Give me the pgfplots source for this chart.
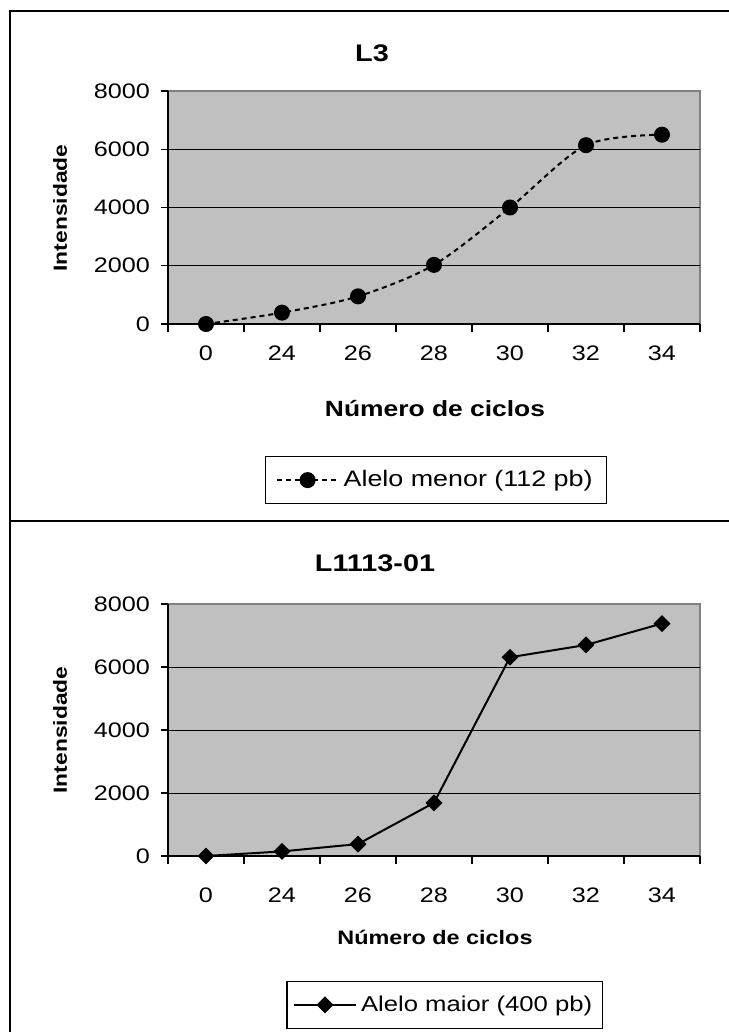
\documentclass[border=0pt]{standalone}
\usepackage{pgfplots}
\pgfplotsset{compat=1.18}
\usepackage{fontspec}
\setmainfont{Liberation Sans}[FakeStretch=1.2]
\definecolor{plotgray}{RGB}{192,192,192}
\definecolor{bordergray}{RGB}{128,128,128}
\pgfplotsset{excel/.style={
  scale only axis, width=266pt,
  xmin=-0.5, xmax=6.5, ymin=0, ymax=8000,
  axis lines=left, axis line style={-, black, line width=0.6pt},
  axis background/.style={fill=plotgray, draw=bordergray, line width=1pt},
  xtick={0,...,6}, xticklabels={0,24,26,28,30,32,34},
  minor xtick={-0.5,0.5,...,6.5},
  ytick={0,2000,...,8000},
  extra y ticks={2000,4000,6000}, extra y tick labels={},
  extra y tick style={grid=major, major grid style={black, line width=0.5pt}},
  tick align=outside, major tick length=3.5pt, minor tick length=4pt,
  every major x tick/.append style={draw=none},
  every minor x tick/.append style={draw=black, line width=0.6pt},
  every major y tick/.append style={black, line width=0.6pt},
  /pgf/number format/assume math mode=true,
  /pgf/number format/set thousands separator={},
  tick label style={font=\fontsize{10.5}{12}\selectfont},
  yticklabel style={xshift=-2pt},
  legend cell align=left,
  legend image code/.code={\draw[mark repeat=2,mark phase=2,#1] plot coordinates {(0pt,0pt) (15.5pt,0pt) (31pt,0pt)};},
  legend style={draw=black, fill=white, line width=0.6pt, inner ysep=5pt},
}}
\begin{document}
\begin{tikzpicture}
\useasboundingbox (0,0) rectangle (364pt,-516pt);
\fill[white] (0,0) rectangle (364pt,-516pt);
\draw[line width=0.6pt] (366pt,-5.5pt) -- (5pt,-5.5pt) -- (5pt,-518pt);
\draw[line width=0.6pt] (5pt,-260.5pt) -- (366pt,-260.5pt);

\begin{axis}[excel, at={(84pt,-162pt)}, anchor=south west, height=116.5pt,
  xticklabel style={yshift=-4pt},
  legend style={at={(axis description cs:0.504,-0.67)}, anchor=center,
    font=\fontsize{11.2}{13}\selectfont, inner xsep=5pt}]
\addplot[black, line width=1pt, dash pattern=on 2.5pt off 2pt, smooth, tension=0.5,
  mark=*, mark size=3.5pt, mark options={solid}] coordinates {
  (0,0) (1,390) (2,950) (3,2030) (4,4000) (5,6140) (6,6500)};
\legend{Alelo menor (112 pb)}
\end{axis}
\node[font=\bfseries\fontsize{12}{14}\selectfont] at (186pt,-26.5pt) {L3};
\node[font=\bfseries\fontsize{9.5}{11}\selectfont, rotate=90] at (30pt,-104pt) {Intensidade};
\node[font=\bfseries\fontsize{11}{13}\selectfont] at (217.5pt,-204.5pt) {Número de ciclos};

\begin{axis}[excel, at={(84pt,-428pt)}, anchor=south west, height=126pt,
  xticklabel style={yshift=-9pt},
  legend style={at={(axis description cs:0.52,-0.591)}, anchor=center,
    font=\fontsize{10.7}{13}\selectfont, inner xsep=3pt}]
\addplot[black, line width=1pt, mark=square*, mark size=2.5pt,
  mark options={rotate=45}] coordinates {
  (0,0) (1,146) (2,380) (3,1690) (4,6310) (5,6700) (6,7380)};
\legend{Alelo maior (400 pb)}
\end{axis}
\node[font=\bfseries\fontsize{12}{14}\selectfont] at (187.5pt,-281.5pt) {L1113-01};
\node[font=\bfseries\fontsize{9.5}{11}\selectfont, rotate=90] at (30pt,-365pt) {Intensidade};
\node[font=\bfseries\fontsize{9.75}{12}\selectfont] at (217.5pt,-468.5pt) {Número de ciclos};
\end{tikzpicture}
\end{document}
